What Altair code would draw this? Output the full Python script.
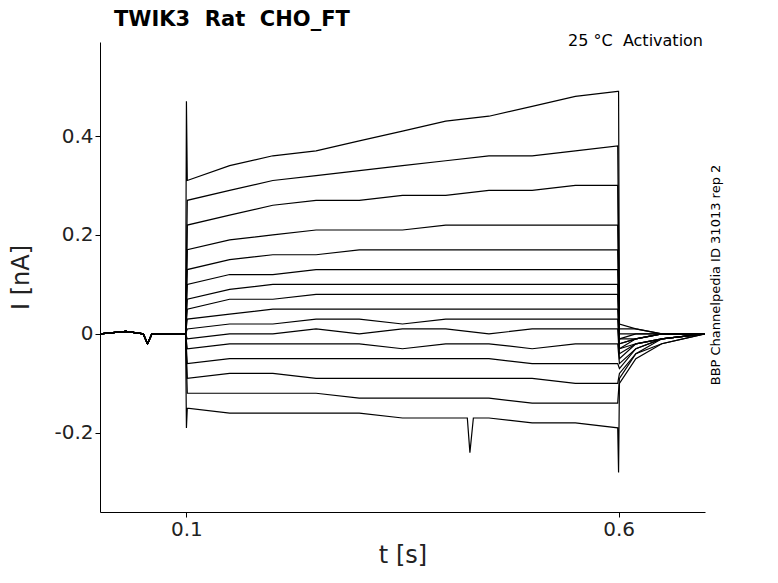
import altair as alt
import pandas as pd

# times of the read points during the pulse
pulse_t = [0.101, 0.15, 0.2, 0.25, 0.3, 0.35, 0.4, 0.45, 0.5, 0.55, 0.599]
pre_t = [0.0, 0.03, 0.05, 0.055, 0.06, 0.07, 0.099]
pre_i = [0.0, 0.005, 0.0, -0.02, 0.0, 0.0, 0.0]
post_t = [0.601, 0.62, 0.65, 0.7]

traces = {
    "A": [0.31, 0.34, 0.36, 0.37, 0.39, 0.41, 0.43, 0.44, 0.46, 0.48, 0.49],
    "B": [0.27, 0.29, 0.31, 0.32, 0.33, 0.34, 0.35, 0.36, 0.36, 0.37, 0.38],
    "C": [0.22, 0.24, 0.26, 0.27, 0.27, 0.28, 0.28, 0.29, 0.29, 0.30, 0.30],
    "D": [0.17, 0.19, 0.20, 0.21, 0.21, 0.21, 0.22, 0.22, 0.22, 0.22, 0.22],
    "E": [0.13, 0.15, 0.16, 0.16, 0.17, 0.17, 0.17, 0.17, 0.17, 0.17, 0.17],
    "F": [0.10, 0.12, 0.12, 0.13, 0.13, 0.13, 0.13, 0.13, 0.13, 0.13, 0.13],
    "G": [0.07, 0.09, 0.10, 0.10, 0.10, 0.10, 0.10, 0.10, 0.10, 0.10, 0.10],
    "H": [0.05, 0.07, 0.07, 0.08, 0.08, 0.08, 0.08, 0.08, 0.08, 0.08, 0.08],
    "I": [0.03, 0.04, 0.05, 0.05, 0.05, 0.05, 0.05, 0.05, 0.05, 0.05, 0.05],
    "J": [0.01, 0.02, 0.02, 0.03, 0.03, 0.02, 0.03, 0.03, 0.03, 0.03, 0.03],
    "K": [-0.01, 0.00, 0.00, 0.01, 0.00, 0.01, 0.01, 0.00, 0.01, 0.01, 0.01],
    "L": [-0.03, -0.02, -0.02, -0.02, -0.02, -0.03, -0.02, -0.02, -0.03, -0.02, -0.02],
    "M": [-0.06, -0.05, -0.05, -0.05, -0.05, -0.05, -0.05, -0.05, -0.06, -0.06, -0.06],
    "N": [-0.09, -0.08, -0.08, -0.09, -0.09, -0.09, -0.09, -0.09, -0.09, -0.10, -0.10],
    "O": [-0.12, -0.12, -0.12, -0.12, -0.13, -0.13, -0.13, -0.13, -0.14, -0.14, -0.14],
    "P": [-0.15, -0.16, -0.16, -0.16, -0.16, -0.17, -0.17, -0.17, -0.18, -0.18, -0.19],
}
tail = {
    "A": [0.02, 0.01, 0.0, 0.0], "B": [0.01, 0.01, 0.0, 0.0],
    "C": [0.0, 0.0, 0.0, 0.0], "D": [-0.01, 0.0, 0.0, 0.0],
    "E": [-0.01, -0.01, 0.0, 0.0], "F": [-0.02, -0.01, 0.0, 0.0],
    "G": [-0.02, -0.01, 0.0, 0.0], "H": [-0.03, -0.01, 0.0, 0.0],
    "I": [-0.03, -0.02, -0.01, 0.0], "J": [-0.04, -0.02, -0.01, 0.0],
    "K": [-0.05, -0.02, -0.01, 0.0], "L": [-0.06, -0.03, -0.01, 0.0],
    "M": [-0.07, -0.03, -0.01, 0.0], "N": [-0.08, -0.04, -0.01, 0.0],
    "O": [-0.09, -0.04, -0.02, 0.0], "P": [-0.10, -0.05, -0.02, 0.0],
}
# capacitive spikes and the dip
extra = {
    "A": [(0.1, 0.47), (0.6, 0.49)],
    "P": [(0.1, -0.19), (0.425, -0.17), (0.428, -0.24), (0.432, -0.17), (0.6, -0.28)],
}

rows = []
for name, vals in traces.items():
    pts = list(zip(pre_t, pre_i)) + list(zip(pulse_t, vals)) + list(zip(post_t, tail[name]))
    pts += extra.get(name, [])
    for t, i in pts:
        rows.append({"trace": name, "t": t, "i": i})
data = pd.DataFrame(rows)

lines = (
    alt.Chart(data)
    .mark_line(color="black", strokeWidth=1.2, clip=True)
    .encode(
        x=alt.X(
            "t:Q",
            scale=alt.Scale(domain=[0, 0.7], nice=False, zero=False),
            axis=alt.Axis(title="t [s]", values=[0.1, 0.6], labelExpr="toString(datum.value)"),
        ),
        y=alt.Y(
            "i:Q",
            scale=alt.Scale(domain=[-0.36, 0.59], nice=False),
            axis=alt.Axis(title="I [nA]", values=[-0.2, 0, 0.2, 0.4], labelExpr="toString(datum.value)"),
        ),
        detail="trace:N",
        order="t:Q",
    )
)

one = pd.DataFrame({"a": [0]})
title = alt.Chart(one).mark_text(
    text="TWIK3\u00a0\u00a0Rat\u00a0\u00a0CHO_FT", fontSize=21, fontWeight="bold", align="left", baseline="middle",
    font="DejaVu Sans",
).encode(x=alt.value(14), y=alt.value(-22))
temp = alt.Chart(one).mark_text(
    text="25 °C\u00a0\u00a0Activation", fontSize=16, align="right", baseline="middle", font="DejaVu Sans"
).encode(x=alt.value(603), y=alt.value(-1))
side = alt.Chart(one).mark_text(
    text="BBP Channelpedia ID 31013 rep 2", fontSize=13, angle=270, align="center", baseline="middle",
    font="DejaVu Sans",
).encode(x=alt.value(616), y=alt.value(233))

chart = (
    alt.layer(lines, title, temp, side)
    .properties(
        width=605,
        height=470,
        autosize="none",
        padding={"left": 92, "top": 34, "right": 65, "bottom": 63},
    )
    .configure_axis(
        grid=False,
        labelFontSize=20,
        titleFontSize=24,
        titleFontWeight="normal",
        labelFont="DejaVu Sans",
        titleFont="DejaVu Sans",
        domainColor="black",
        tickColor="black",
        labelColor="#222",
        titleColor="#222",
    )
    .configure_axisY(titlePadding=20)
    .configure_view(strokeWidth=0)
)
chart.save("out.html", embed_options={"renderer": "svg", "actions": False})
